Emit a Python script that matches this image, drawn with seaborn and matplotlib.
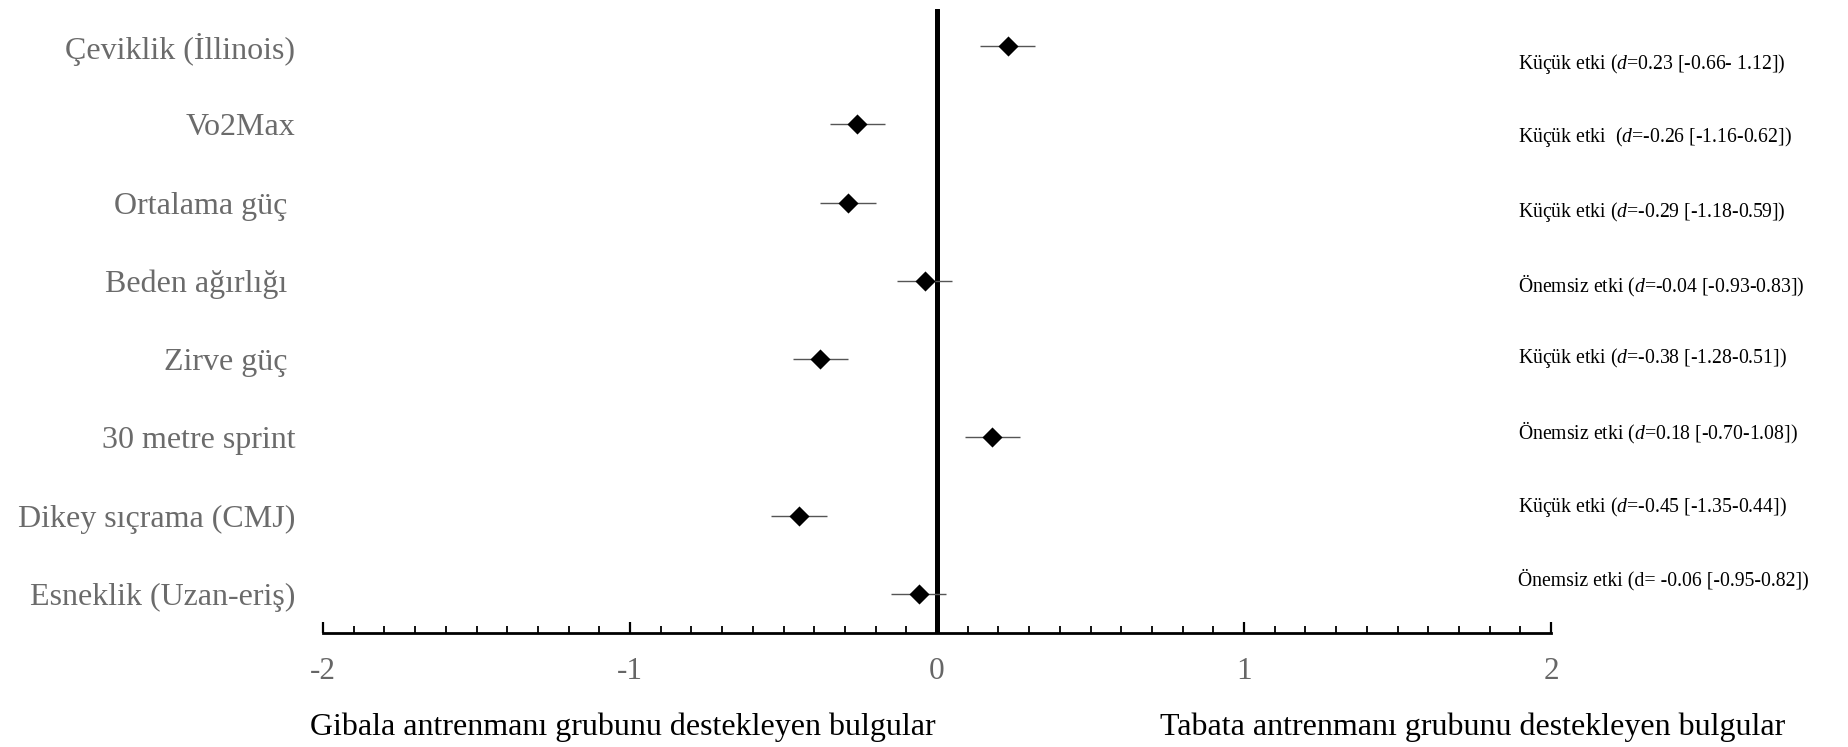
import matplotlib
matplotlib.use("Agg")
import matplotlib.pyplot as plt
import seaborn as sns
import pandas as pd
from matplotlib.ticker import MultipleLocator

# data
outcomes = ["Çeviklik (İllinois)", "Vo2Max", "Ortalama güç ", "Beden ağırlığı ",
            "Zirve güç ", "30 metre sprint", "Dikey sıçrama (CMJ)", "Esneklik (Uzan-eriş)"]
effect_d = [0.23, -0.26, -0.29, -0.04, -0.38, 0.18, -0.45, -0.06]
err_half = [0.09, 0.09, 0.09, 0.09, 0.09, 0.09, 0.09, 0.09]
notes = [r"Küçük etki ($\mathit{d}$=0.23 [-0.66- 1.12])",
         r"Küçük etki  ($\mathit{d}$=-0.26 [-1.16-0.62])",
         r"Küçük etki ($\mathit{d}$=-0.29 [-1.18-0.59])",
         r"Önemsiz etki ($\mathit{d}$=-0.04 [-0.93-0.83])",
         r"Küçük etki ($\mathit{d}$=-0.38 [-1.28-0.51])",
         r"Önemsiz etki ($\mathit{d}$=0.18 [-0.70-1.08])",
         r"Küçük etki ($\mathit{d}$=-0.45 [-1.35-0.44])",
         "Önemsiz etki (d= -0.06 [-0.95-0.82])"]
xticks = [-2, -1, 0, 1, 2]
left_caption = "Gibala antrenmanı grubunu destekleyen bulgular"
right_caption = "Tabata antrenmanı grubunu destekleyen bulgular"

n = len(outcomes)
df = pd.DataFrame({"outcome": outcomes, "d": effect_d, "err": err_half,
                   "row": list(range(n, 0, -1))})
# annotation rows are spaced a little tighter than the markers
note_rows = [7.77, 6.84, 5.88, 4.94, 4.01, 3.06, 2.11, 1.18]

sns.set_theme(style="white")
plt.rcParams["font.family"] = ["Liberation Serif", "DejaVu Serif"]
plt.rcParams["mathtext.fontset"] = "custom"
plt.rcParams["mathtext.it"] = "Liberation Serif:italic"
plt.rcParams["mathtext.rm"] = "Liberation Serif"

fig = plt.figure(figsize=(18.48, 7.47), dpi=100)
ax = fig.add_axes([0.1748, 0.1526, 0.6645, 0.835])

ax.hlines(df["row"], df["d"] - df["err"], df["d"] + df["err"], color="#555555", lw=1.0, zorder=2)
sns.scatterplot(data=df, x="d", y="row", marker="D", s=105, color="black",
                edgecolor="black", linewidth=0, ax=ax, zorder=3)
ax.axvline(0, color="black", lw=3.6, zorder=1)

ax.set_xlim(-2, 2)
ax.set_ylim(0.5, n + 0.47)
ax.set_xticks(xticks)
ax.set_xticklabels([str(t) for t in xticks])
ax.xaxis.set_minor_locator(MultipleLocator(0.1))
ax.tick_params(axis="x", which="major", direction="in", length=8, width=1.6,
               color="black", labelsize=22.5, labelcolor="#666666", pad=17, bottom=True)
ax.tick_params(axis="x", which="minor", direction="in", length=5, width=1.3,
               color="black", bottom=True)
ax.set_yticks(df["row"])
ax.set_yticklabels(df["outcome"], va="center_baseline")
ax.tick_params(axis="y", length=0, labelsize=23, labelcolor="#6b6b6b", pad=20)

for s in ["top", "right", "left"]:
    ax.spines[s].set_visible(False)
ax.spines["bottom"].set_color("black")
ax.spines["bottom"].set_linewidth(2.0)
ax.set_xlabel("")
ax.set_ylabel("")

# the notes sit beyond the axes on the right
note_tf = matplotlib.transforms.blended_transform_factory(fig.transFigure, ax.transData)
for txt, y in zip(notes, note_rows):
    ax.text(0.8212, y, txt, transform=note_tf, fontsize=14.2,
            color="black", va="center", ha="left")

fig.text(0.337, 0.026, left_caption, ha="center", va="center", fontsize=23, color="black")
fig.text(0.797, 0.026, right_caption, ha="center", va="center", fontsize=23, color="black")

fig.savefig("out.png", dpi=100, facecolor="white")
